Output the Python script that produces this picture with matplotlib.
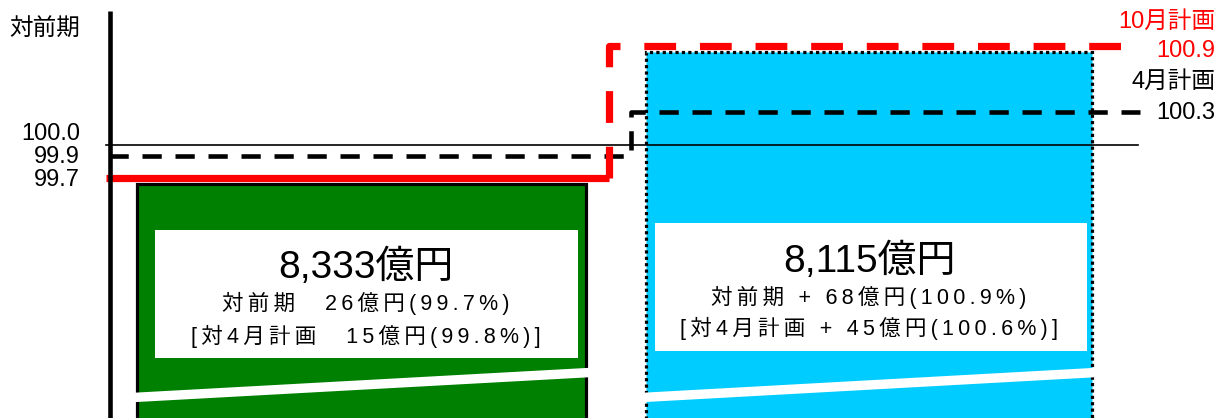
import numpy as np
import matplotlib
matplotlib.use('Agg')
import matplotlib.pyplot as plt
from matplotlib.patches import Rectangle

plt.rcParams['font.family'] = ['Liberation Sans', 'Noto Sans CJK JP', 'DejaVu Sans']

# values
periods = ['上期', '下期']
amounts = [8333, 8115]                 # 億円
ratio_prev = [99.7, 100.9]             # 対前期 (%), also the 10月計画 level
plan_apr = [99.9, 100.3]               # 4月計画 level
plan_oct = [99.7, 100.9]               # 10月計画 level
base_level = 100.0
line2 = ['対前期　26億円(99.7%)', '対前期+68億円(100.9%)']
line3 = ['[対4月計画　15億円(99.8%)]', '[対4月計画+45億円(100.6%)]']
left_ticks = [100.0, 99.9, 99.7]

W, H = 1220, 418
TS = '\u2009'  # thin space used as letter spacing


def py(p):
    # pixel row of the reference -> value on the y scale
    return 100 - (p - 145) / 110


def spaced(s):
    return TS.join(s.replace('+', ' + '))


fig = plt.figure(figsize=(W / 100, H / 100), dpi=100)
ax = fig.add_axes([0, 0, 1, 1])
ax.set_xlim(0, W)
ax.set_ylim(py(H), py(0))
ax.axis('off')

# bars (cut at the bottom)
xc = [361.5, 869]
bw = [449, 446]
bottom = py(H + 20)
tops = [r - 0.055 for r in ratio_prev]
ax.bar(xc[0], tops[0] - bottom, bottom=bottom, width=bw[0], color='#008000',
       edgecolor='black', linewidth=2.3, zorder=2)
ax.bar(xc[1], tops[1] - bottom, bottom=bottom, width=bw[1], color='#00CCFF',
       edgecolor='black', linewidth=2.3, linestyle=(0, (1, 1)), zorder=2)

# white break band across each bar
for c, w in zip(xc, bw):
    x0, x1 = c - w / 2 - 4, c + w / 2 + 4
    ax.plot([x0, x1], [py(397.5), py(372.5)], color='white', lw=6.8,
            solid_capstyle='butt', zorder=3)

# white text boxes
boxes = [(155, 578, 230, 358), (655, 1087, 223, 351)]
for (l, r, t, b) in boxes:
    ax.add_patch(Rectangle((l, py(b)), r - l, py(t) - py(b), facecolor='white',
                           edgecolor='none', zorder=4))

big_y = [267, 261]
l2_y = [303, 297]
l3_y = [336, 328]
tx = [366, 869]
for i in range(2):
    ax.text(tx[i], py(big_y[i]), f'{amounts[i]:,}億円', ha='center', va='center',
            fontsize=28, zorder=5)
    ax.text(tx[i], py(l2_y[i]), spaced(line2[i]), ha='center', va='center',
            fontsize=15.5, zorder=5)
    ax.text(tx[i], py(l3_y[i]), spaced(line3[i]), ha='center', va='center',
            fontsize=15.5, zorder=5)

# 100.0 reference line
ax.plot([106, 1138], [base_level, base_level], color='black', lw=1.2, zorder=6)

# 4月計画 (black dashed step)
ax.plot([109, 631, 631, 1140], [plan_apr[0], plan_apr[0], plan_apr[1], plan_apr[1]],
        color='black', lw=3.3, dashes=(4.2, 3.0), zorder=6)

# 10月計画 (red, solid then dashed step)
ax.plot([106, 609], [plan_oct[0], plan_oct[0]], color='red', lw=5.2,
        solid_capstyle='butt', zorder=7)
ax.plot([609, 609, 1130], [plan_oct[0], plan_oct[1], plan_oct[1]],
        color='red', lw=5.2, dashes=(4.4, 3.3), zorder=7)

# vertical axis line
ax.plot([109.5, 109.5], [py(H), py(11)], color='black', lw=3.3,
        solid_capstyle='butt', zorder=8)

# left labels
ax.text(80, py(30), '対前期', ha='right', va='center', fontsize=17)
for v, p in zip(left_ticks, [134, 157, 180]):
    ax.text(80, py(p), f'{v:.1f}', ha='right', va='center', fontsize=17)

# right labels
ax.text(1215, py(22), '10月計画', ha='right', va='center', fontsize=17, color='red')
ax.text(1215, py(51), f'{plan_oct[1]:.1f}', ha='right', va='center', fontsize=17, color='red')
ax.text(1215, py(82), '4月計画', ha='right', va='center', fontsize=17)
ax.text(1215, py(113), f'{plan_apr[1]:.1f}', ha='right', va='center', fontsize=17)

fig.savefig('out.png', dpi=100)
